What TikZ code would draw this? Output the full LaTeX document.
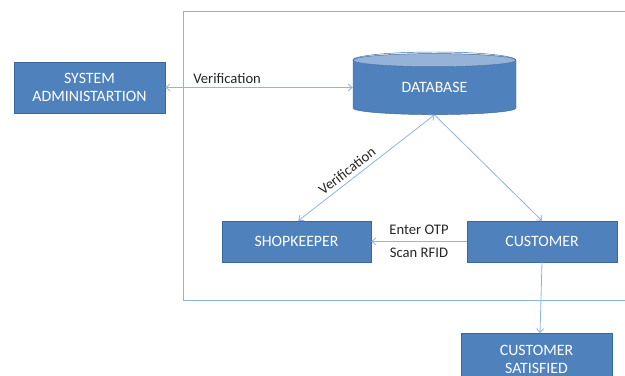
\documentclass[tikz,border=0pt]{standalone}
\usepackage{fontspec}
\setmainfont{Carlito}
\usetikzlibrary{positioning,shapes.geometric,arrows.meta}

\definecolor{boxblue}{HTML}{4F81BD}
\definecolor{boxline}{HTML}{3A679C}
\definecolor{lineblue}{HTML}{8EB4E3}
\definecolor{topblue}{HTML}{95B3D7}

\begin{document}
\begin{tikzpicture}[
        x=0.03cm, y=-0.03cm,
        block/.style={draw=boxline, fill=boxblue, text=white, font=\fontsize{13.5}{15.5}\selectfont,
          align=center, inner sep=0pt},
        link/.style={draw=lineblue, line width=0.7pt, -{Straight Barb[length=3.5pt,width=6pt]}},
        tag/.style={font=\fontsize{12.5}{14}\selectfont, text=black!85}
      ]
      \useasboundingbox (0,0) rectangle (625,376);

      % outer frame
      \draw[lineblue, line width=0.7pt] (625,11) -- (183,11) -- (183,300) -- (625,300);

      \node[block, minimum width=4.53cm, minimum height=1.53cm] (admin) at (89.5,87.5) {SYSTEM\\ADMINISTARTION};
      \node[block, fill=none, cylinder, shape border rotate=90, aspect=0.2, cylinder uses custom fill,
        cylinder body fill=boxblue, cylinder end fill=topblue,
        minimum width=4.89cm, minimum height=1.83cm] (db) at (434.5,87.5) {DATABASE};
      \draw[boxline] (db.before top) arc[start angle=180, end angle=360, x radius=81.5, y radius=8.15];
      \node[block, minimum width=4.47cm, minimum height=1.23cm] (shop) at (296.5,241.5) {SHOPKEEPER};
      \node[block, minimum width=4.5cm, minimum height=1.23cm] (cust) at (542,241.5) {CUSTOMER};
      \node[block, minimum width=4.53cm, minimum height=1.53cm] (sat) at (536.5,359) {CUSTOMER\\SATISFIED};

      % connectors
      \draw[link, {Straight Barb[length=3.5pt,width=6pt]}-{Straight Barb[length=3.5pt,width=6pt]}] (admin.east) -- node[tag, above, pos=0.33] {Verification} (db.west);
      \draw[link, {Straight Barb[length=3.5pt,width=6pt]}-{Straight Barb[length=3.5pt,width=6pt]}] (db.south) -- node[tag, sloped, above, pos=0.6] {Verification} ([xshift=1.5]shop.north);
      \draw[link] (db.south) -- (cust.north);
      \draw[link] (cust.west) -- node[tag, above=2pt] {Enter OTP} node[tag, below=2pt] {Scan RFID} (shop.east);
      \draw[link] (cust.south) -- ([xshift=3]sat.north);

    \end{tikzpicture}
\end{document}
